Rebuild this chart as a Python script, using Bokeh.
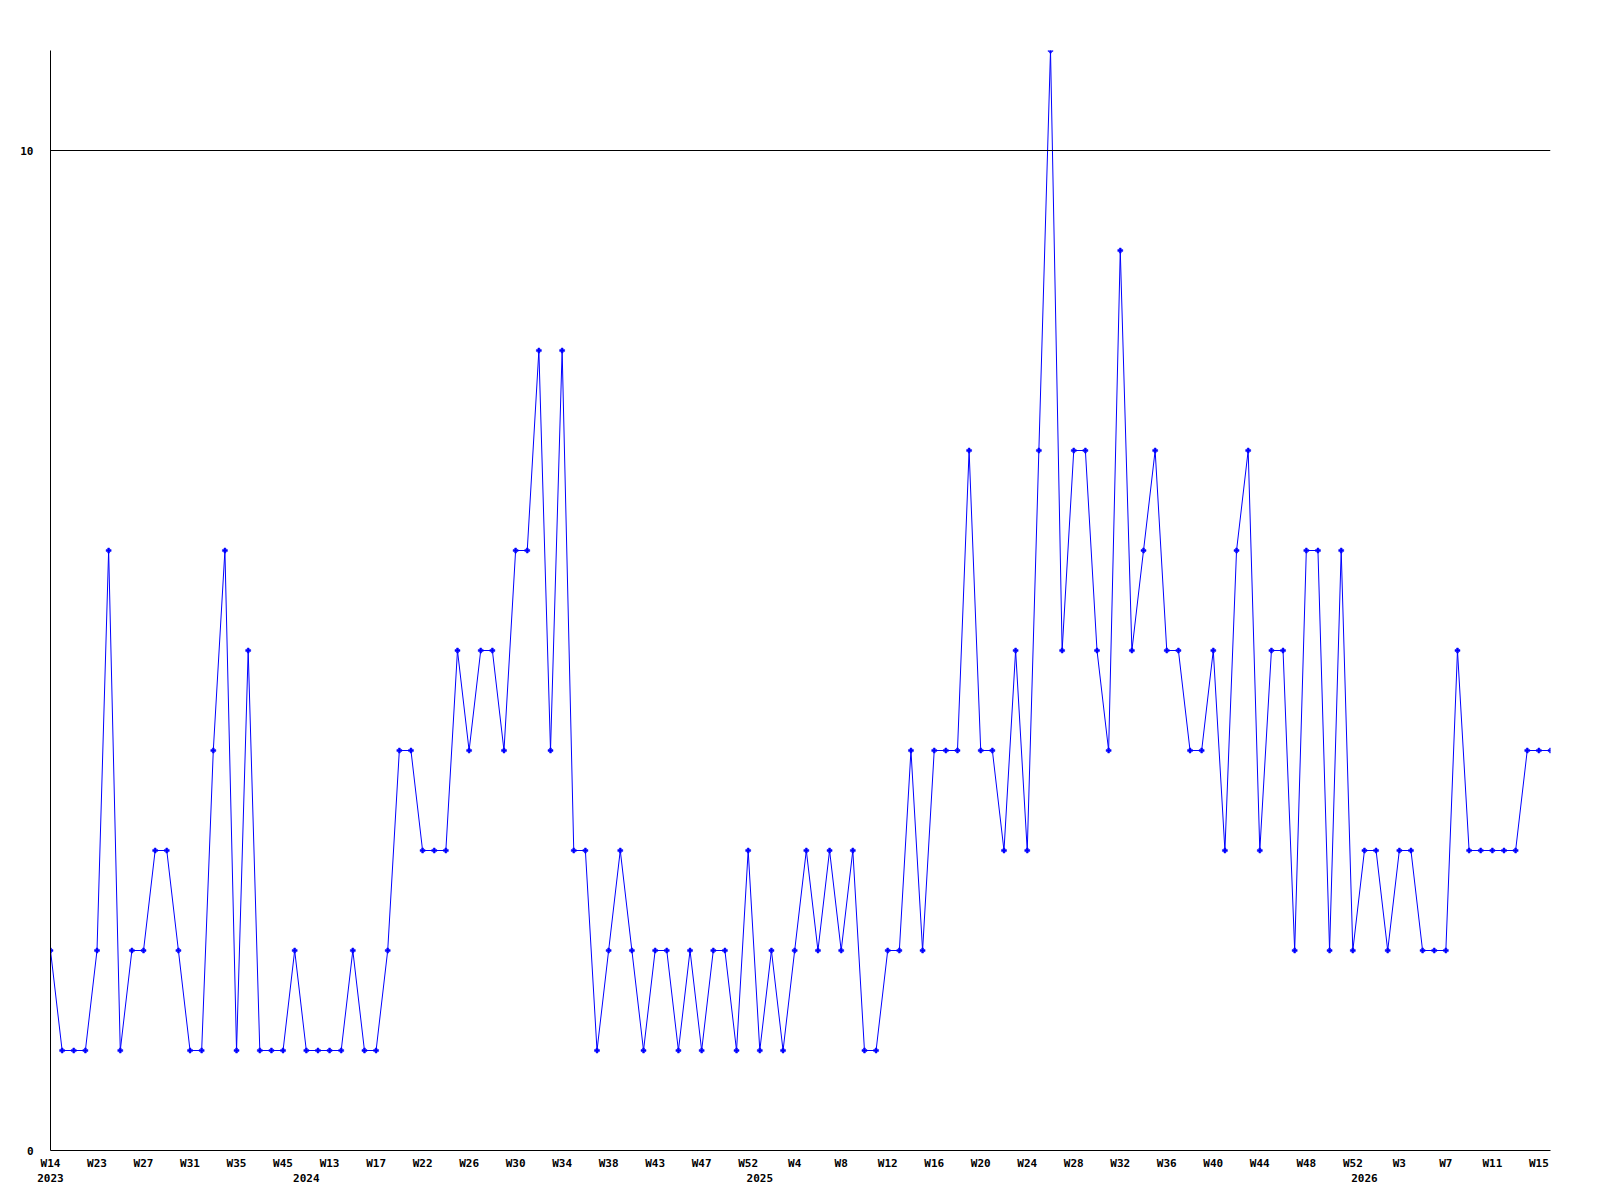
from bokeh.plotting import figure
from bokeh.models import (Range1d, LinearAxis, FixedTicker, Span)
from bokeh.embed import file_html
from bokeh.resources import INLINE

# Weekly values, one per observed week (2023 W14 ... 2026 W16)
values = [
    2, 1, 1, 1, 2, 6, 1, 2, 2, 3, 3, 2, 1, 1, 4, 6, 1, 5, 1, 1, 1, 2,
    1, 1, 1, 1, 2, 1, 1, 2, 4, 4, 3, 3, 3, 5, 4, 5, 5, 4, 6, 6, 8, 4,
    8, 3, 3, 1, 2, 3, 2, 1, 2, 2, 1, 2, 1, 2, 2, 1, 3, 1, 2, 1, 2,
    3, 2, 3, 2, 3, 1, 1, 2, 2, 4, 2, 4, 4, 4, 7, 4, 4, 3, 5, 3, 7, 11,
    5, 7, 7, 5, 4, 9, 5, 6, 7, 5, 5, 4, 4, 5, 3, 6, 7, 3, 5, 5, 2,
    6, 6, 2, 6, 2, 3, 3, 2, 3, 3, 2, 2, 2, 5, 3, 3, 3, 3, 3, 4, 4, 4,
]

# Week labels shown on every 4th observation
week_labels = [
    "W14", "W23", "W27", "W31", "W35", "W45", "W13", "W17", "W22", "W26",
    "W30", "W34", "W38", "W43", "W47", "W52", "W4", "W8", "W12", "W16",
    "W20", "W24", "W28", "W32", "W36", "W40", "W44", "W48", "W52", "W3",
    "W7", "W11", "W15",
]
week_label_step = 4

# Year labels and the observation index where each year begins
years = ["2023", "2024", "2025", "2026"]
year_start_index = [0, 22, 61, 113]

y_ticks = [0, 10]

FONT = "DejaVu Sans Mono"

x = list(range(len(values)))

p = figure(
    frame_width=1500, frame_height=1100,
    min_border_left=50, min_border_right=40,
    min_border_top=50, min_border_bottom=40,
    output_backend="svg", toolbar_location=None,
    x_range=Range1d(0, len(values) - 1), y_range=Range1d(0, 11),
    x_axis_location=None, y_axis_location=None,
    background_fill_color="white", border_fill_color="white",
)
p.outline_line_color = None
p.xgrid.visible = False
p.ygrid.visible = False

# Reference line at 10
p.add_layout(Span(location=10, dimension="width", line_color="black", line_width=1))

p.line(x, values, line_color="#0000FF", line_width=1)
p.scatter(x, values, marker="plus", size=5, fill_color="#0000FF", line_color="#0000FF", line_width=0.5)

# Y axis
yaxis = LinearAxis(ticker=FixedTicker(ticks=y_ticks))
yaxis.axis_line_color = "black"
yaxis.axis_line_width = 1
yaxis.major_tick_line_color = None
yaxis.minor_tick_line_color = None
yaxis.major_label_standoff = 11
yaxis.major_label_text_font = FONT
yaxis.major_label_text_font_style = "bold"
yaxis.major_label_text_font_size = "11px"
yaxis.major_label_text_color = "black"
p.add_layout(yaxis, "left")

# Week axis
week_ticks = [i * week_label_step for i in range(len(week_labels))]
xaxis = LinearAxis(ticker=FixedTicker(ticks=week_ticks))
xaxis.major_label_overrides = {t: lab for t, lab in zip(week_ticks, week_labels)}
xaxis.axis_line_color = "black"
xaxis.axis_line_width = 1
xaxis.major_tick_line_color = None
xaxis.minor_tick_line_color = None
xaxis.major_label_standoff = 0
xaxis.major_label_text_font = FONT
xaxis.major_label_text_font_style = "bold"
xaxis.major_label_text_font_size = "11px"
xaxis.major_label_text_color = "black"
p.add_layout(xaxis, "below")

# Year axis
yearaxis = LinearAxis(ticker=FixedTicker(ticks=year_start_index))
yearaxis.major_label_overrides = {t: lab for t, lab in zip(year_start_index, years)}
yearaxis.axis_line_color = None
yearaxis.major_tick_line_color = None
yearaxis.minor_tick_line_color = None
yearaxis.major_label_standoff = -5
yearaxis.major_label_text_font = FONT
yearaxis.major_label_text_font_style = "bold"
yearaxis.major_label_text_font_size = "11px"
yearaxis.major_label_text_color = "black"
p.add_layout(yearaxis, "below")

open("out.html", "w").write(file_html(p, INLINE))
